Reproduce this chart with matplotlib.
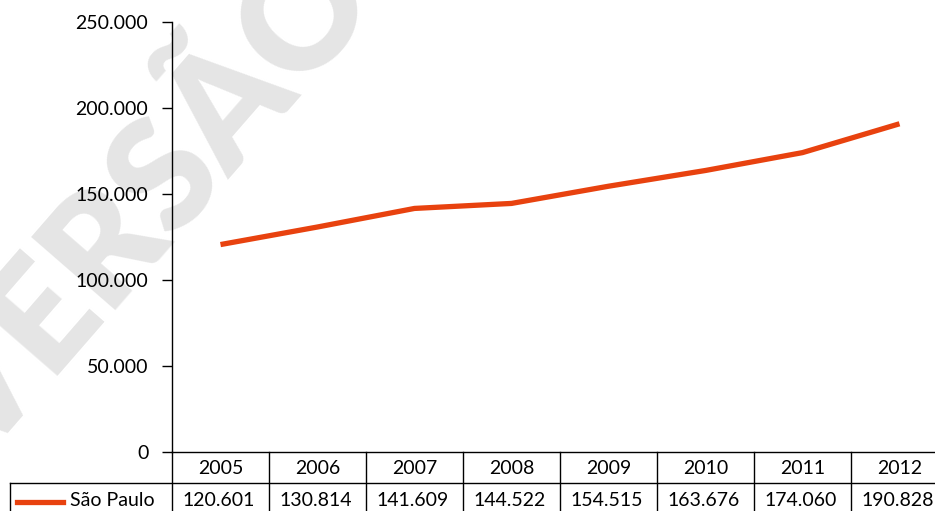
import matplotlib
matplotlib.use('Agg')
import matplotlib.pyplot as plt
import matplotlib.transforms as mtransforms

# Dados
anos = ['2005', '2006', '2007', '2008', '2009', '2010', '2011', '2012']
sao_paulo = [120601, 130814, 141609, 144522, 154515, 163676, 174060, 190828]
rotulo_serie = 'São Paulo'
yticks = [0, 50000, 100000, 150000, 200000, 250000]

cor = '#E8420F'
W, H = 935, 511
fs = 14

plt.rcParams['font.family'] = ['Lato', 'DejaVu Sans']

fig = plt.figure(figsize=(W / 100, H / 100), dpi=100)

# marca d'agua
fig.text(148 / W, 1 - 205 / H, 'VERSÃO', rotation=49, fontsize=110,
         fontweight='heavy', color='#e5e5e5', ha='center', va='center',
         rotation_mode='anchor', zorder=-5)

ax = fig.add_axes([172 / W, 1 - 452 / H, 776 / W, 430 / H])
ax.patch.set_alpha(0)
x = range(len(anos))
ax.plot(x, sao_paulo, color=cor, lw=3.8, solid_capstyle='butt', zorder=3)

ax.set_xlim(-0.5, len(anos) - 0.5)
ax.set_ylim(0, 250000)
ax.set_yticks(yticks)
ax.set_yticklabels([f'{v:,}'.replace(',', '.') for v in yticks], fontsize=fs)
ax.tick_params(axis='y', length=7, width=1, pad=10)
ax.set_xticks([])
for s in ['top', 'right']:
    ax.spines[s].set_visible(False)
ax.spines['left'].set_linewidth(1)
ax.spines['bottom'].set_linewidth(1)

# tabela de dados
tr = mtransforms.blended_transform_factory(ax.transData, fig.transFigure)
y_top = 1 - 452 / H
y_mid = 1 - 483 / H
for k in range(len(anos) + 1):
    ax.plot([k - 0.5, k - 0.5], [0, y_top], color='black', lw=1,
            transform=tr, clip_on=False)
ax.plot([10 / W, 1.2], [y_mid, y_mid], color='black', lw=1,
        transform=fig.transFigure, clip_on=False)
ax.plot([10 / W, 10 / W], [0, y_mid], color='black', lw=1,
        transform=fig.transFigure, clip_on=False)
for i, (a, v) in enumerate(zip(anos, sao_paulo)):
    ax.text(i, 1 - 468 / H, a, transform=tr, ha='center', va='center',
            fontsize=fs)
    ax.text(i - 0.02, 1 - 500 / H, f'{v:,}'.replace(',', '.'), transform=tr,
            ha='center', va='center', fontsize=fs)

# legenda
fig.add_artist(plt.Line2D([17 / W, 63 / W], [1 - 502 / H, 1 - 502 / H],
                          color=cor, lw=3.8))
fig.text(70 / W, 1 - 500 / H, rotulo_serie, ha='left', va='center',
         fontsize=fs)

fig.savefig('out.png', dpi=100)
